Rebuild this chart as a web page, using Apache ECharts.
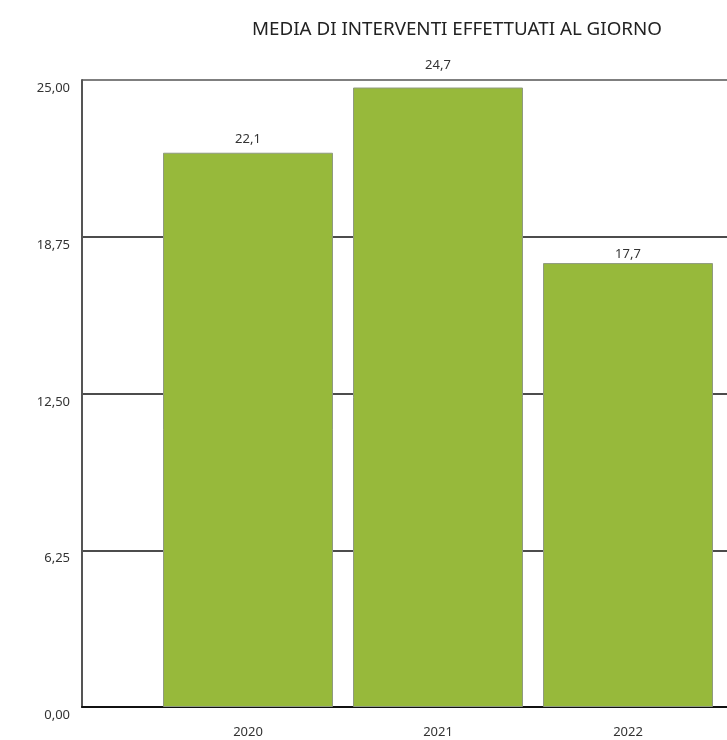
<!DOCTYPE html>
<html>
<head>
<meta charset="utf-8">
<script src="https://cdn.jsdelivr.net/npm/echarts@6/dist/echarts.min.js"></script>
<style>
  html, body { margin: 0; padding: 0; background: #fff; }
  #chart { width: 727px; height: 740px; }
</style>
</head>
<body>
<div id="chart"></div>
<script>
var chart = echarts.init(document.getElementById("chart"));

var anni = ['2020', '2021', '2022'];
var media = [22.1, 24.7, 17.7];
var yTicks = [0, 6.25, 12.5, 18.75, 25];

// distanza etichetta-barra, come nell'originale
var distanzaEtichette = [7, 16, 2];

function virgola(v, d) {
    return v.toFixed(d).replace('.', ',');
}

chart.setOption({
    animation: false,
    textStyle: { fontFamily: 'Noto Sans' },
    title: {
        text: 'MEDIA DI INTERVENTI EFFETTUATI AL GIORNO',
        left: 452,
        textAlign: 'center',
        top: 15,
        textStyle: { fontSize: 18.8, fontWeight: 'normal', color: '#222' }
    },
    grid: [
        // cornice con asse y e griglia
        { left: 82, top: 80, right: -30, bottom: 33 },
        // area delle barre
        { left: 153, top: 80, width: 570, bottom: 33 }
    ],
    xAxis: [
        {
            gridIndex: 0, type: 'value', min: 0, max: 1,
            axisLine: { show: true, lineStyle: { color: '#111', width: 2 } },
            axisTick: { show: false }, axisLabel: { show: false },
            splitLine: { show: false }
        },
        {
            gridIndex: 1, type: 'category', data: anni,
            axisLine: { show: false }, axisTick: { show: false },
            axisLabel: { margin: 19, fontSize: 13, color: '#333' }
        }
    ],
    yAxis: [
        {
            gridIndex: 0, type: 'value', min: yTicks[0], max: yTicks[yTicks.length - 1],
            interval: yTicks[1],
            axisLine: { show: true, lineStyle: { color: '#555', width: 2 } },
            axisTick: { show: false },
            axisLabel: {
                margin: 12, fontSize: 13, color: '#333', verticalAlign: 'top',
                padding: [2, 0, 0, 0],
                formatter: function (v) { return virgola(v, 2); }
            },
            splitLine: {
                show: true,
                lineStyle: { color: ['#111', '#111', '#111', '#111', '#555'], width: 1.5 }
            }
        },
        {
            gridIndex: 1, type: 'value', min: 0, max: 25, show: false
        }
    ],
    series: [
        {
            type: 'bar',
            xAxisIndex: 1,
            yAxisIndex: 1,
            data: media.map(function (v, i) {
                return { value: v, label: { distance: distanzaEtichette[i] } };
            }),
            barWidth: 170,
            itemStyle: { color: '#97b93b', borderColor: '#8f9a80', borderWidth: 1 },
            label: {
                show: true,
                position: 'top',
                fontSize: 13,
                color: '#333',
                formatter: function (p) { return virgola(p.value, 1); }
            }
        }
    ]
});
</script>
</body>
</html>
